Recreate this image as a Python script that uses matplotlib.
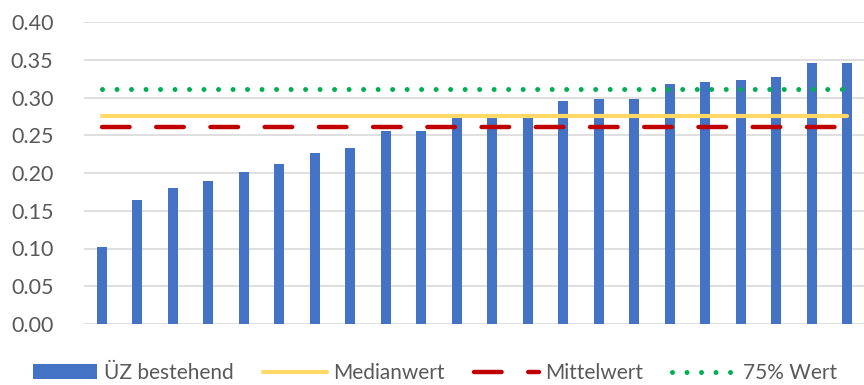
import numpy as np
import matplotlib.pyplot as plt

plt.rcParams['font.family'] = ['Lato', 'DejaVu Sans']

# sorted values per object
uez_values = [0.102, 0.164, 0.180, 0.189, 0.201, 0.212, 0.226, 0.233, 0.256, 0.256, 0.273,
              0.273, 0.273, 0.295, 0.298, 0.298, 0.318, 0.320, 0.323, 0.327, 0.346, 0.346]
median_value = 0.275
mean_value = 0.261
p75_value = 0.311

y_ticks = [0.00, 0.05, 0.10, 0.15, 0.20, 0.25, 0.30, 0.35, 0.40]

x = np.arange(len(uez_values))
n = len(uez_values)

fig = plt.figure(figsize=(8.64, 3.85), dpi=100)
ax = fig.add_axes([84 / 864, (385 - 324) / 385, 781 / 864, 302 / 385])

bars = ax.bar(x, uez_values, width=0.29, color='#4472C4', zorder=2, label='ÜZ bestehend')
l_med, = ax.plot(x, [median_value] * n, color='#FFD966', lw=3.0, solid_capstyle='round',
                 zorder=3, label='Medianwert')
l_mean, = ax.plot(x, [mean_value] * n, color='#C00000', lw=3.2, dashes=(6.2, 6.0),
                  dash_capstyle='round', zorder=3, label='Mittelwert')
l_p75, = ax.plot(x, [p75_value] * n, color='#00B050', lw=3.6, dashes=(0.001, 2.9),
                 dash_capstyle='round', zorder=3, label='75% Wert')

ax.set_xlim(-0.5, n - 0.5)
ax.set_ylim(0, 0.40)
ax.set_yticks(y_ticks)
ax.set_yticklabels([f'{v:.2f}' for v in y_ticks])
ax.set_xticks([])
ax.yaxis.grid(True, color='#D9D9D9', lw=1.2, zorder=0)
ax.set_axisbelow(True)
for s in ax.spines.values():
    s.set_visible(False)
ax.tick_params(axis='y', length=0, pad=22, labelsize=15.5, labelcolor='#595959')

fig.legend([bars, l_med, l_mean, l_p75],
           ['ÜZ bestehend', 'Medianwert', 'Mittelwert', '75% Wert'],
           loc='center', bbox_to_anchor=(435 / 864, (385 - 373) / 385), ncol=4,
           frameon=False, fontsize=15, handlelength=3.1, handletextpad=0.3,
           columnspacing=1.4, labelcolor='#595959')

fig.savefig('out.png', dpi=100)
